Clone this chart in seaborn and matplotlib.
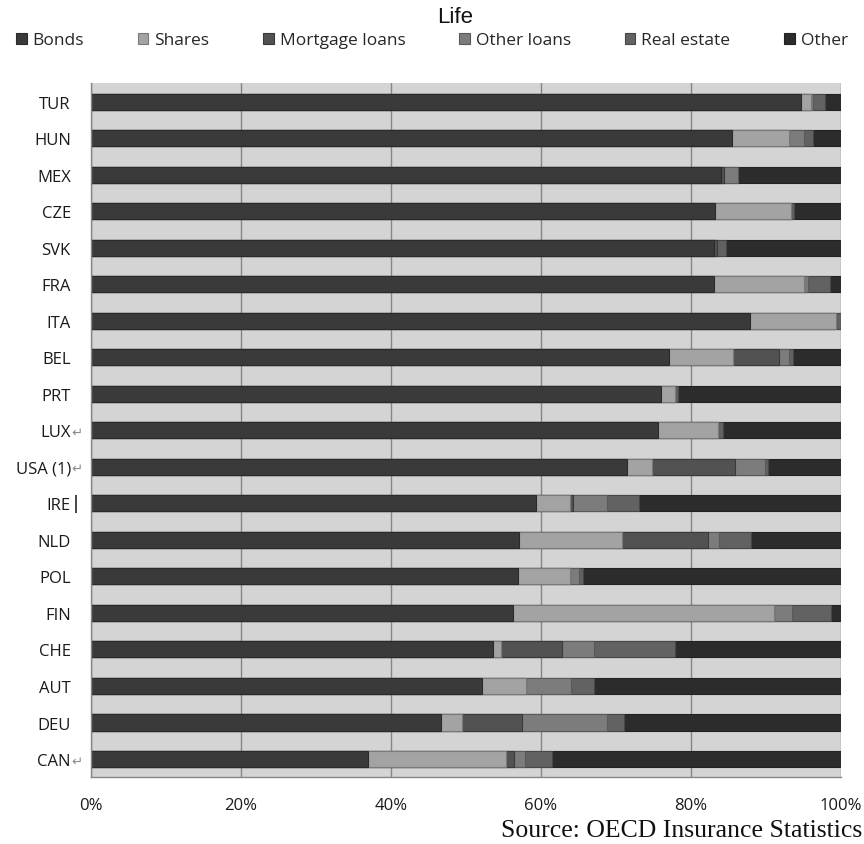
import numpy as np
import matplotlib
matplotlib.use("Agg")
import matplotlib.pyplot as plt
from matplotlib.patches import Patch
import seaborn as sns

# Asset allocation of life insurers, share of total investments (%)
countries = ["TUR", "HUN", "MEX", "CZE", "SVK", "FRA", "ITA", "BEL", "PRT", "LUX",
             "USA (1)", "IRE", "NLD", "POL", "FIN", "CHE", "AUT", "DEU", "CAN"]
bonds = [94.7, 85.5, 84.0, 83.2, 83.1, 83.0, 87.8, 77.1, 76.0, 75.6,
         71.4, 59.3, 57.1, 56.9, 56.2, 53.6, 52.1, 46.7, 36.9]
shares = [1.3, 7.5, 0.0, 10.1, 0.0, 12.0, 11.5, 8.5, 1.8, 8.0,
          3.4, 4.5, 13.7, 6.9, 34.9, 1.1, 5.9, 2.7, 18.4]
mortgage_loans = [0.0, 0.0, 0.4, 0.0, 0.4, 0.0, 0.0, 6.1, 0.0, 0.0,
                  11.1, 0.5, 11.4, 0.0, 0.0, 8.1, 0.0, 8.0, 1.1]
other_loans = [0.2, 2.0, 1.8, 0.0, 0.0, 0.6, 0.0, 1.4, 0.0, 0.0,
               3.9, 4.5, 1.5, 1.2, 2.4, 4.2, 6.0, 11.4, 1.5]
real_estate = [1.6, 1.2, 0.0, 0.4, 1.1, 2.9, 0.7, 0.5, 0.4, 0.7,
               0.5, 4.2, 4.3, 0.6, 5.1, 10.9, 3.0, 2.3, 3.6]
other = [2.2, 3.8, 13.8, 6.3, 15.4, 1.5, 0.0, 6.4, 21.8, 15.7,
         9.7, 27.0, 12.0, 34.4, 1.4, 22.1, 33.0, 28.9, 38.5]
x_ticks = [0, 20, 40, 60, 80, 100]
x_tick_labels = ["0%", "20%", "40%", "60%", "80%", "100%"]

series_names = ["Bonds", "Shares", "Mortgage loans", "Other loans", "Real estate", "Other"]
series = [bonds, shares, mortgage_loans, other_loans, real_estate, other]
fills = ["#3a3a3a", "#a3a3a3", "#525252", "#7c7c7c", "#626262", "#2c2c2c"]
edges = ["#2a2a2a", "#7a7a7a", "#3a3a3a", "#5a5a5a", "#474747", "#222222"]

sns.set_theme(style="white")
plt.rcParams["font.family"] = ["Open Sans", "DejaVu Sans"]

fig = plt.figure(figsize=(8.64, 8.45), dpi=100)
ax = fig.add_axes([91 / 864, 1 - 778.3 / 845, 750 / 864, (778.3 - 84.3) / 845])
ax.set_facecolor("#d4d4d4")

# Stacked bars: draw cumulative totals from the longest down, each on top
cum = np.cumsum(np.array(series), axis=0)
for i in reversed(range(len(series))):
    sns.barplot(x=cum[i], y=countries, order=countries, orient="h",
                color=fills[i], saturation=1, width=0.44, errorbar=None,
                edgecolor=edges[i], linewidth=0.8, ax=ax)

ax.set_xlim(0, 100)
ax.set_ylim(18.5, -0.5)
ax.set_xlabel("")
ax.set_ylabel("")
ax.set_xticks(x_ticks)
ax.set_xticklabels(x_tick_labels)
ax.set_axisbelow(True)
ax.grid(axis="x", color="#868686", linewidth=1.0)
ax.grid(axis="y", visible=False)

for side in ["top", "right"]:
    ax.spines[side].set_visible(False)
for side in ["left", "bottom"]:
    ax.spines[side].set_color("#868686")
    ax.spines[side].set_linewidth(1.0)

ax.set_yticks(np.arange(-0.5, len(countries), 1), minor=True)
ax.tick_params(axis="y", which="major", length=0, pad=14.5, labelsize=12, labelcolor="#1a1a1a")
ax.tick_params(axis="y", which="minor", length=5, width=1.0, color="#868686", direction="out")
ax.tick_params(axis="x", which="major", length=5, width=1.0, color="#868686", direction="out",
               pad=9, labelsize=12, labelcolor="#1a1a1a")

# Line-break marks and cursor left in some category labels
trans = matplotlib.transforms.blended_transform_factory(ax.transAxes, ax.transData)
for name in ["LUX", "USA (1)", "CAN"]:
    ax.text(-0.026, countries.index(name) + 0.05, "\u21b5", transform=trans,
            ha="left", va="center", fontsize=9.5, color="#8a8a8a", family="DejaVu Sans")
ax.text(-0.02, countries.index("IRE"), "|", transform=trans, ha="center", va="center",
        fontsize=13, color="#111111", family="DejaVu Sans")

fig.text(0.527, 0.979, "Life", ha="center", va="center", fontsize=16,
         family="Liberation Sans", color="#111111")

handles = [Patch(facecolor=f, edgecolor=e, linewidth=0.8) for f, e in zip(fills, edges)]
fig.legend(handles, series_names, loc="center", bbox_to_anchor=(0.5, 0.951), ncol=6,
           frameon=False, fontsize=12.5, handlelength=0.6, handleheight=0.6,
           handletextpad=0.35, columnspacing=3.1, borderaxespad=0, borderpad=0)

fig.text(0.998, 0.016, "Source: OECD Insurance Statistics", ha="right", va="center",
         fontsize=18.5, family="Liberation Serif", color="#111111")

fig.savefig("out.png", dpi=100)
